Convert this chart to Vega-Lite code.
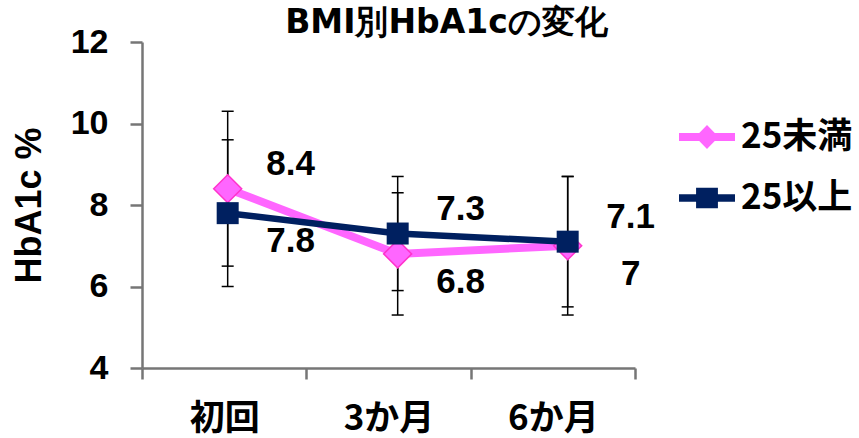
{
  "$schema": "https://vega.github.io/schema/vega-lite/v6.json",
  "width": 493,
  "height": 326,
  "autosize": {"type": "none"},
  "padding": {"left": 142, "top": 42, "right": 224, "bottom": 70},
  "background": "white",
  "config": {"view": {"stroke": null}, "axis": {"grid": false}},
  "title": {
    "text": "BMI別HbA1cの変化",
    "font": "DejaVu Sans",
    "fontSize": 33,
    "fontWeight": "bold",
    "color": "black",
    "anchor": "middle",
    "frame": "group",
    "dx": 58,
    "dy": 19,
    "offset": 4
  },
  "data": {
    "values": [
      {"time": "初回", "group": "25未満", "value": 8.4, "lo": 6.5, "hi": 10.3},
      {"time": "初回", "group": "25以上", "value": 7.8, "lo": 6.0, "hi": 9.6},
      {"time": "3か月", "group": "25未満", "value": 6.8, "lo": 5.3, "hi": 8.3},
      {"time": "3か月", "group": "25以上", "value": 7.3, "lo": 5.9, "hi": 8.7},
      {"time": "6か月", "group": "25未満", "value": 7, "lo": 5.3, "hi": 8.7},
      {"time": "6か月", "group": "25以上", "value": 7.1, "lo": 5.5, "hi": 8.7}
    ]
  },
  "layer": [
    {
      "mark": {"type": "point", "filled": true, "opacity": 0},
      "encoding": {
        "x": {
          "field": "time", "type": "nominal", "sort": ["初回", "3か月", "6か月"],
          "scale": {"type": "band", "paddingInner": 0, "paddingOuter": 0},
          "axis": {
            "title": null, "labelAngle": 0, "tickBand": "extent",
            "labelFont": "Noto Sans CJK JP", "labelFontSize": 35, "labelFontWeight": "bold",
            "labelColor": "black", "labelPadding": 22,
            "domainColor": "#767676", "domainWidth": 2.5,
            "tickColor": "#767676", "tickWidth": 2.5, "tickSize": 11
          }
        },
        "y": {
          "field": "value", "type": "quantitative",
          "scale": {"domain": [4, 12]},
          "axis": {
            "values": [4, 6, 8, 10, 12], "title": "HbA1c %",
            "titleFont": "Liberation Sans", "titleFontSize": 36, "titleFontWeight": "bold",
            "titleColor": "black", "titlePadding": 22,
            "labelFont": "Liberation Sans", "labelFontSize": 34, "labelFontWeight": "bold",
            "labelColor": "black", "labelPadding": 22,
            "domainColor": "#767676", "domainWidth": 2.5,
            "tickColor": "#767676", "tickWidth": 2.5, "tickSize": 12, "grid": false
          }
        },
        "color": {
          "field": "group", "type": "nominal",
          "scale": {"domain": ["25未満", "25以上"], "range": ["#FF66FF", "#002060"]},
          "legend": {
            "orient": "none", "legendX": 537, "legendY": 67, "title": null,
            "symbolSize": 3136, "symbolOpacity": 1, "symbolStrokeWidth": 0,
            "labelFont": "Noto Sans CJK JP", "labelFontSize": 35, "labelFontWeight": "bold",
            "labelColor": "black", "labelOffset": 6, "rowPadding": 15, "padding": 0
          }
        },
        "shape": {
          "field": "group", "type": "nominal",
          "scale": {
            "domain": ["25未満", "25以上"],
            "range": [
              "M-1,-0.14L-0.277,-0.14L0,-0.43L0.277,-0.14L1,-0.14L1,0.14L0.277,0.14L0,0.43L-0.277,0.14L-1,0.14Z",
              "M-1,-0.13L-0.39,-0.13L-0.39,-0.37L0.39,-0.37L0.39,-0.13L1,-0.13L1,0.13L0.39,0.13L0.39,0.37L-0.39,0.37L-0.39,0.13L-1,0.13Z"
            ]
          },
          "legend": {
            "orient": "none", "legendX": 537, "legendY": 67, "title": null,
            "symbolSize": 3136, "symbolOpacity": 1, "symbolStrokeWidth": 0,
            "labelFont": "Noto Sans CJK JP", "labelFontSize": 35, "labelFontWeight": "bold",
            "labelColor": "black", "labelOffset": 6, "rowPadding": 15, "padding": 0
          }
        }
      }
    },
    {
      "encoding": {
        "x": {
          "field": "time", "type": "nominal", "sort": ["初回", "3か月", "6か月"],
          "scale": {"type": "point", "padding": 0.45, "align": 0.56},
          "axis": null
        }
      },
      "layer": [
        {
          "mark": {"type": "rule", "color": "black", "strokeWidth": 1.5},
          "encoding": {
            "y": {"field": "lo", "type": "quantitative"},
            "y2": {"field": "hi"}
          }
        },
        {
          "mark": {"type": "tick", "orient": "horizontal", "size": 12, "thickness": 1.5, "color": "black", "opacity": 1},
          "encoding": {"y": {"field": "lo", "type": "quantitative"}}
        },
        {
          "mark": {"type": "tick", "orient": "horizontal", "size": 12, "thickness": 1.5, "color": "black", "opacity": 1},
          "encoding": {"y": {"field": "hi", "type": "quantitative"}}
        },
        {
          "transform": [{"filter": "datum.group === '25未満'"}],
          "mark": {"type": "line", "color": "#FF66FF", "strokeWidth": 8},
          "encoding": {"y": {"field": "value", "type": "quantitative"}}
        },
        {
          "transform": [{"filter": "datum.group === '25未満'"}],
          "mark": {"type": "point", "shape": "diamond", "filled": true, "size": 784, "fill": "#FF66FF", "stroke": "#FF33CC", "strokeWidth": 1.5, "opacity": 1},
          "encoding": {"y": {"field": "value", "type": "quantitative"}}
        },
        {
          "transform": [{"filter": "datum.group === '25以上'"}],
          "mark": {"type": "line", "color": "#002060", "strokeWidth": 6.5},
          "encoding": {"y": {"field": "value", "type": "quantitative"}}
        },
        {
          "transform": [{"filter": "datum.group === '25以上'"}],
          "mark": {"type": "point", "shape": "square", "filled": true, "size": 484, "fill": "#002060", "opacity": 1},
          "encoding": {"y": {"field": "value", "type": "quantitative"}}
        },
        {
          "transform": [
            {"joinaggregate": [{"op": "max", "field": "value", "as": "maxv"}], "groupby": ["time"]},
            {"filter": "datum.value >= datum.maxv"}
          ],
          "mark": {"type": "text", "font": "Liberation Sans", "fontSize": 35, "fontWeight": "bold", "color": "black", "align": "center", "baseline": "middle", "dx": 63, "dy": -25},
          "encoding": {
            "y": {"field": "value", "type": "quantitative"},
            "text": {"field": "value", "type": "nominal"}
          }
        },
        {
          "transform": [
            {"joinaggregate": [{"op": "max", "field": "value", "as": "maxv"}], "groupby": ["time"]},
            {"filter": "datum.value < datum.maxv"}
          ],
          "mark": {"type": "text", "font": "Liberation Sans", "fontSize": 35, "fontWeight": "bold", "color": "black", "align": "center", "baseline": "middle", "dx": 63, "dy": 28},
          "encoding": {
            "y": {"field": "value", "type": "quantitative"},
            "text": {"field": "value", "type": "nominal"}
          }
        }
      ]
    }
  ],
  "resolve": {"scale": {"x": "independent"}}
}
